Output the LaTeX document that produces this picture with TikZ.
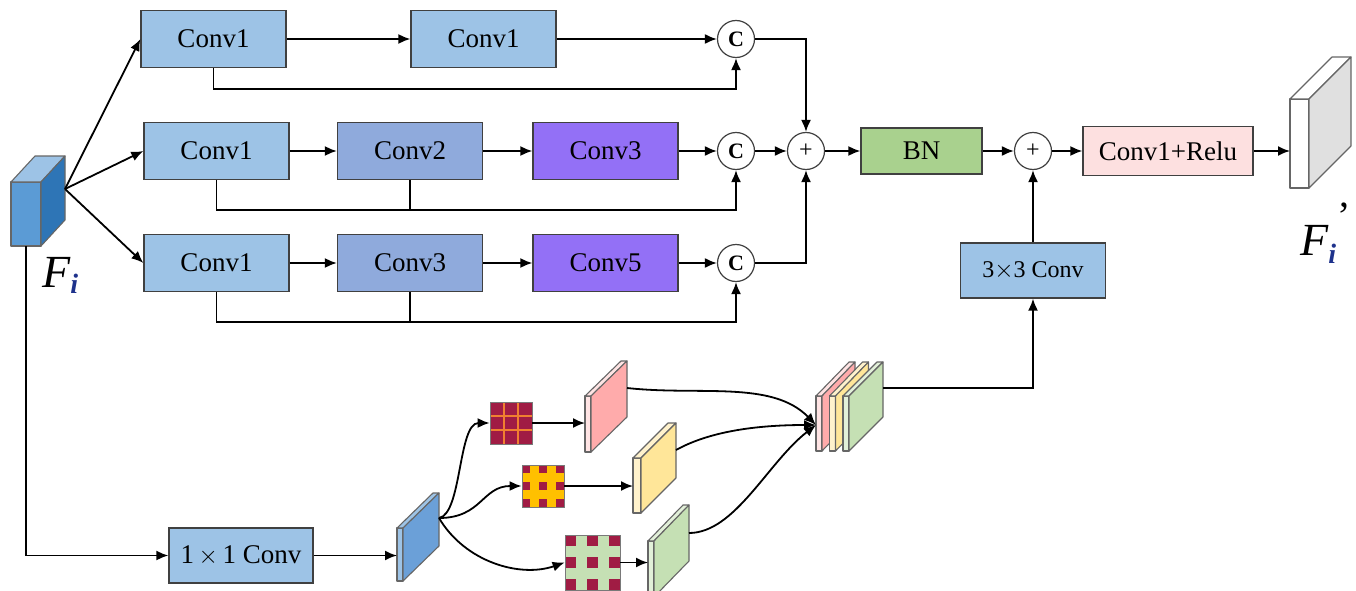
\documentclass[tikz,border=0pt]{standalone}
\usepackage{fontspec}
\setmainfont{Liberation Serif}
\usetikzlibrary{arrows.meta,calc}
\definecolor{lblue}{RGB}{157,195,230}
\definecolor{mblue}{RGB}{143,170,220}
\definecolor{purp}{RGB}{147,112,246}
\definecolor{bngreen}{RGB}{169,209,142}
\definecolor{rpink}{RGB}{253,224,224}
\definecolor{bord}{RGB}{64,64,64}
\definecolor{kred}{RGB}{160,28,68}
\definecolor{korange}{RGB}{240,128,48}
\definecolor{kyellow}{RGB}{255,192,0}
\definecolor{kgreen}{RGB}{197,224,180}
\definecolor{idx}{RGB}{30,50,140}
\definecolor{cubefront}{RGB}{91,155,213}
\definecolor{cubetop}{RGB}{157,195,230}
\definecolor{cubeside}{RGB}{46,117,182}
\definecolor{sbside}{RGB}{107,160,216}
\definecolor{sbfront}{RGB}{157,195,230}
\definecolor{pfront}{RGB}{255,228,228}
\definecolor{pside}{RGB}{255,171,171}
\definecolor{yfront}{RGB}{255,242,204}
\definecolor{yside}{RGB}{255,230,153}
\definecolor{gfront}{RGB}{226,240,217}
\definecolor{gside}{RGB}{197,224,180}
\definecolor{oside}{RGB}{224,224,224}
\newcommand{\myslab}[9]{%
  \filldraw[slabline, fill=#7] (#1,#2) rectangle ({#1+#3},{#2+#4});
  \filldraw[slabline, fill=#8] (#1,#2) -- ++(#5,-#6) -- ++(#3,0) -- ({#1+#3},#2) -- cycle;
  \filldraw[slabline, fill=#9] ({#1+#3},#2) -- ++(#5,-#6) -- ++(0,#4) -- ({#1+#3},{#2+#4}) -- cycle;
}
\begin{document}
\begin{tikzpicture}[x=1pt,y=-1pt,
  box/.style={draw=bord, line width=1.3pt, minimum width=145pt, minimum height=57pt, inner sep=0pt, font=\fontsize{27}{30}\selectfont},
  circ/.style={circle, draw=bord, fill=white, line width=1.2pt, minimum size=37pt, inner sep=0pt},
  arr/.style={-{Latex[length=12pt,width=10pt]}, line width=1.8pt},
  ln/.style={line width=1.8pt},
  slabline/.style={draw=bord!80, line width=1.1pt, line join=round},
  kern/.style={draw=bord!70, line width=0.8pt, inner sep=0pt},
  cfont/.style={font=\fontsize{22}{22}\selectfont\bfseries},
  pfont/.style={font=\fontsize{24}{24}\selectfont}]
\useasboundingbox (0,0) rectangle (1356,591);
\fill[white] (0,0) rectangle (1356,591);

% input cube
\myslab{11}{182}{30}{64}{24}{26}{cubefront}{cubetop}{cubeside}
\coordinate (fiout) at (65,189);
\coordinate (fibot) at (26,246);
\node[anchor=base west, inner sep=0pt] (fil) at (42,287) {\fontsize{46}{46}\selectfont\itshape F\raisebox{-6pt}{\fontsize{28}{28}\selectfont\bfseries\color{idx}i}};

% row 1
\node[box, fill=lblue] (a1) at (213.5,39) {Conv1};
\node[box, fill=lblue] (a2) at (483.5,39) {Conv1};
\node[circ, cfont] (c1) at (736,39) {C};
% row 2
\node[box, fill=lblue] (b1) at (216.5,151) {Conv1};
\node[box, fill=mblue] (b2) at (410,151) {Conv2};
\node[box, fill=purp] (b3) at (605.5,151) {Conv3};
\node[circ, cfont] (c2) at (736,151) {C};
\node[circ, pfont] (p1) at (806,151) {+};
\node[box, fill=bngreen, minimum width=121pt, minimum height=46pt] (bn) at (921.5,151) {BN};
\node[circ, pfont] (p2) at (1033,151) {+};
\node[box, fill=rpink, minimum width=170pt, minimum height=49pt] (relu) at (1168,151) {Conv1+Relu};
% row 3
\node[box, fill=lblue] (d1) at (216.5,263) {Conv1};
\node[box, fill=mblue] (d2) at (410,263) {Conv3};
\node[box, fill=purp] (d3) at (605.5,263) {Conv5};
\node[circ, cfont] (c3) at (736,263) {C};

\node[box, fill=lblue, minimum height=55pt, font=\fontsize{24}{26}\selectfont] (k33) at (1033,270.5) {3$\times$3 Conv};
\node[box, fill=lblue, minimum width=144pt, minimum height=55pt] (k11) at (241,555.5) {1\,$\times$\,1 Conv};

% output slab
\myslab{1290}{99}{19}{89}{42}{42}{white}{white}{oside}
\coordinate (outin) at (1290,151);
\node[anchor=base west, inner sep=0pt] (fol) at (1300,255) {\fontsize{46}{46}\selectfont\itshape F\raisebox{-8pt}{\fontsize{28}{28}\selectfont\bfseries\color{idx}i}\hspace{1pt}\raisebox{26pt}{\fontsize{40}{40}\selectfont\upshape ’}};

% arrows from input
\draw[arr] (fiout) -- (a1.west);
\draw[arr] (fiout) -- (b1.west);
\draw[arr] (fiout) -- (d1.west);

% row connections
\draw[arr] (a1) -- (a2);
\draw[arr] (a2) -- (c1);
\draw[arr] (a1.south) -- (a1.south |- 0,89) -| (c1.south);
\draw[arr] (b1) -- (b2);
\draw[arr] (b2) -- (b3);
\draw[arr] (b3) -- (c2);
\draw[arr] (b1.south) -- (b1.south |- 0,210) -| (c2.south);
\draw[ln] (b2.south) -- (b2.south |- 0,210);
\draw[arr] (d1) -- (d2);
\draw[arr] (d2) -- (d3);
\draw[arr] (d3) -- (c3);
\draw[arr] (d1.south) -- (d1.south |- 0,322) -| (c3.south);
\draw[ln] (d2.south) -- (d2.south |- 0,322);
\draw[arr] (c1.east) -| (p1.north);
\draw[arr] (c3.east) -| (p1.south);
\draw[arr] (c2) -- (p1);
\draw[arr] (p1) -- (bn);
\draw[arr] (bn) -- (p2);
\draw[arr] (p2) -- (relu);
\draw[arr] (relu.east) -- (outin);
\draw[arr] (k33) -- (p2);

% lower branch
\draw[arr] (fibot) |- (k11.west);
\myslab{397}{528}{6}{53}{36}{35}{sbfront}{sbfront}{sbside}
\coordinate (sbin) at (397,555.5);
\coordinate (sbout) at (439,518);
\draw[arr] (k11.east) -- (sbin);

% kernels
\node[kern, fill=kred, minimum size=42pt] (kr) at (511,423) {};
\draw[korange, line width=2pt] (504,402) -- (504,444) (518,402) -- (518,444) (490,416) -- (532,416) (490,430) -- (532,430);
\draw[bord!70, line width=0.8pt] (490,402) rectangle (532,444);

\node[kern, fill=kyellow, minimum size=42pt] (ky) at (543,486) {};
\foreach \i in {0,2,4}{\foreach \j in {0,2,4}{\fill[kred] ({522+\i*8.4},{465+\j*8.4}) rectangle ++(8.4,8.4);}}
\draw[bord!70, line width=0.8pt] (522,465) rectangle (564,507);

\node[kern, fill=kgreen, minimum size=55pt] (kg) at (592.5,562.5) {};
\foreach \i in {0,2,4}{\foreach \j in {0,2,4}{\fill[kred] ({565+\i*11},{535+\j*11}) rectangle ++(11,11);}}
\draw[bord!70, line width=0.8pt] (565,535) rectangle (620,590);

\draw[arr] (sbout) .. controls (462,514) and (458,423) .. (kr.west);
\draw[arr] (sbout) .. controls (482,518) and (482,486) .. (ky.west);
\draw[arr] (sbout) .. controls (465,562) and (520,578) .. (kg.west);

% branch slabs
\myslab{585}{396}{6}{56}{36}{35}{pfront}{pfront}{pside}
\myslab{633}{458}{8}{55}{35}{35}{yfront}{yfront}{yside}
\myslab{648}{541}{6}{56}{35}{36}{gfront}{gfront}{gside}
\coordinate (pin) at (585,423);
\coordinate (yin) at (633,486);
\coordinate (gin) at (648,562.5);
\coordinate (pout) at (627,388);
\coordinate (yout) at (676,450);
\coordinate (gout) at (689,533);
\draw[arr] (kr.east) -- (pin);
\draw[arr] (ky.east) -- (yin);
\draw[arr] (kg.east) -- (gin);

% stack
\myslab{816}{396}{6}{55}{33}{34}{pfront}{pfront}{pside}
\myslab{829.5}{396}{6}{55}{33}{34}{yfront}{yfront}{yside}
\myslab{843}{396}{6}{55}{34}{34}{gfront}{gfront}{gside}
\coordinate (stin) at (816,425);
\coordinate (stout) at (883,388);
\draw[arr] (pout) .. controls (700,396) and (772,380) .. (stin);
\draw[arr] (yout) .. controls (712,430) and (762,425) .. (stin);
\draw[arr] (gout) .. controls (735,533) and (768,462) .. (stin);
\draw[arr] (stout) -| (k33.south);
\end{tikzpicture}
\end{document}
